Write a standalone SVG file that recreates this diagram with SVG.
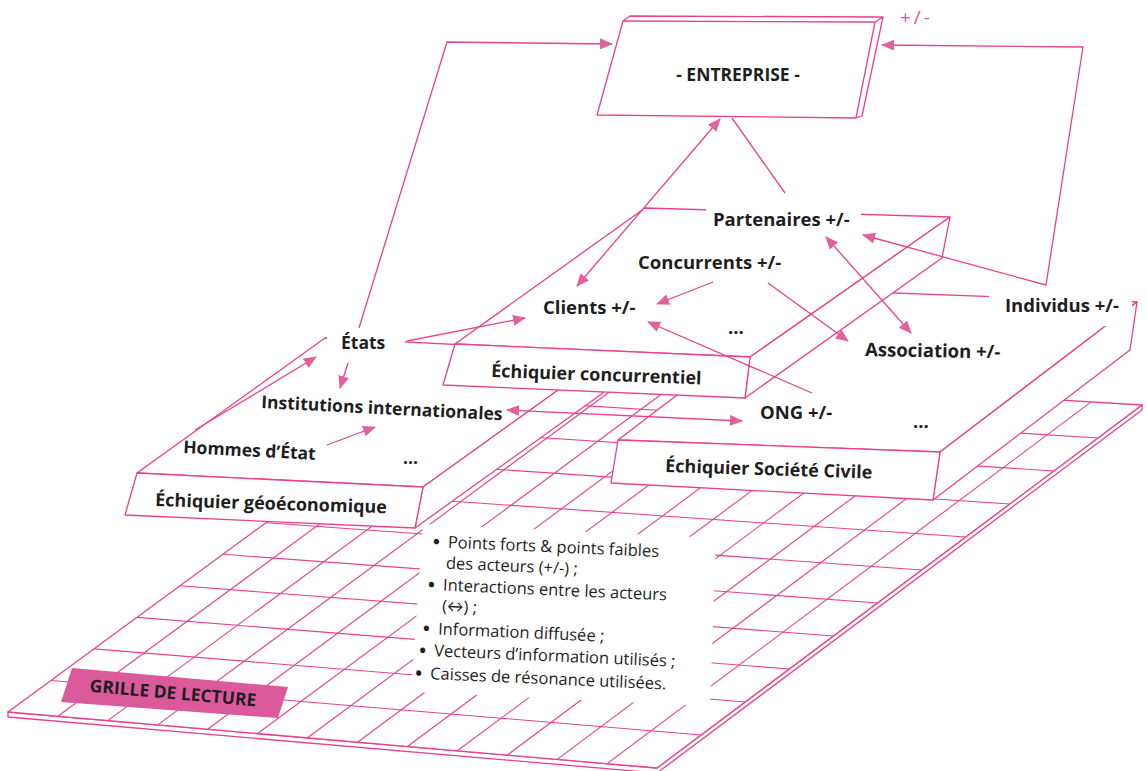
<svg xmlns="http://www.w3.org/2000/svg" width="1147" height="771" viewBox="0 0 1147 771">
<defs>
<style>
.ln{stroke:#E8418F;stroke-width:1.3;fill:none;stroke-linejoin:round}
.gl{stroke:#E8418F;stroke-width:1.1;fill:none}
.face{fill:#fff;stroke:#E8418F;stroke-width:1.3;stroke-linejoin:round}
.lbl{font-family:"Open Sans",Lato,"Liberation Sans",sans-serif;font-weight:bold;font-size:17.5px;fill:#1e1e1e}
.lb2{font-family:"Open Sans",Lato,"Liberation Sans",sans-serif;font-weight:bold;font-size:18.5px;fill:#1e1e1e}
.brd{font-family:"Open Sans",Lato,"Liberation Sans",sans-serif;font-weight:bold;font-size:18px;fill:#1e1e1e}
.bul{font-family:"Open Sans",Lato,"Liberation Sans",sans-serif;font-size:16.5px;fill:#1e1e1e}
.dot{font-family:"Open Sans",Lato,"Liberation Sans",sans-serif;font-weight:bold;font-size:18px;fill:#1e1e1e}
.bg{fill:#fff}
</style>
<marker id="ah" viewBox="0 0 13 11" refX="12" refY="5.5" markerWidth="13" markerHeight="11" markerUnits="userSpaceOnUse" orient="auto-start-reverse"><path d="M0,0 L13,5.5 L0,11 z" fill="#E2609C"/></marker>
</defs>
<rect width="1147" height="771" fill="#fff"/>

<g id="grille">
<polygon class="face" points="8,712 657,768 1142,405 1142,410 657,773 8,717"/>
<polygon class="face" points="8,712 657,768 1142,405 481,365"/>
<g class="gl">
<line x1="57.9" y1="716.3" x2="531.8" y2="368.1"/>
<line x1="107.8" y1="720.6" x2="582.7" y2="371.2"/>
<line x1="157.8" y1="724.9" x2="633.5" y2="374.2"/>
<line x1="207.7" y1="729.2" x2="684.4" y2="377.3"/>
<line x1="257.6" y1="733.5" x2="735.2" y2="380.4"/>
<line x1="307.5" y1="737.8" x2="786.1" y2="383.5"/>
<line x1="357.5" y1="742.2" x2="836.9" y2="386.5"/>
<line x1="407.4" y1="746.5" x2="887.8" y2="389.6"/>
<line x1="457.3" y1="750.8" x2="938.6" y2="392.7"/>
<line x1="507.2" y1="755.1" x2="989.5" y2="395.8"/>
<line x1="557.2" y1="759.4" x2="1040.3" y2="398.8"/>
<line x1="607.1" y1="763.7" x2="1091.2" y2="401.9"/>
<line x1="51" y1="680.5" x2="701.1" y2="735"/>
<line x1="94" y1="648.9" x2="745.2" y2="702"/>
<line x1="137" y1="617.4" x2="789.3" y2="669"/>
<line x1="180" y1="585.8" x2="833.4" y2="636"/>
<line x1="223" y1="554.3" x2="877.5" y2="603"/>
<line x1="266" y1="522.7" x2="921.5" y2="570"/>
<line x1="309" y1="491.2" x2="965.6" y2="537"/>
<line x1="352" y1="459.6" x2="1009.7" y2="504"/>
<line x1="395" y1="428.1" x2="1053.8" y2="471"/>
<line x1="438" y1="396.5" x2="1097.9" y2="438"/>
</g>
<polygon class="bg" points="423,524 716,538 710,706 411,692"/>
<g transform="rotate(2.5 430 540)">
<text class="dot" x="433" y="548">•</text><text class="bul" x="448" y="547">Points forts &amp; points faibles</text>
<text class="bul" x="447" y="568">des acteurs (+/-) ;</text>
<text class="dot" x="430" y="591">•</text><text class="bul" x="445" y="590">Interactions entre les acteurs</text>
<text class="bul" x="445" y="611">(↔) ;</text>
<text class="dot" x="427" y="635">•</text><text class="bul" x="442" y="634">Information diffusée ;</text>
<text class="dot" x="424" y="657">•</text><text class="bul" x="439" y="656">Vecteurs d’information utilisés ;</text>
<text class="dot" x="421" y="680">•</text><text class="bul" x="436" y="679">Caisses de résonance utilisées.</text>
</g>
<polygon points="72,668 288,687 278,718 61,702" fill="#DA5A9C"/>
<text class="lbl" x="173" y="699" text-anchor="middle" transform="rotate(5 173 693)" font-size="16.5">GRILLE DE LECTURE</text>
</g>

<g id="echiquier-geoeconomique">
<polygon class="face" points="137,473 325,338 611,352 423,487"/>
<polygon class="face" points="423,487 611,352 603,393 415,528"/>
<polygon class="face" points="137,473 423,487 415,528 125,515"/>
<text class="brd" x="155" y="506" transform="rotate(1.8 155 506)">Échiquier géoéconomique</text>
<rect class="bg" x="327" y="331" width="78" height="22"/>
<text class="lbl" x="341" y="349">États</text>
<text class="lbl" x="261" y="408" transform="rotate(2.9 261 408)">Institutions internationales</text>
<text class="lbl" x="183" y="453" transform="rotate(3 183 453)">Hommes d’État</text>
<text class="lbl" x="403" y="464">...</text>
</g>

<g id="echiquier-societe-civile">
<polygon class="face" points="618,440 815,290 1137,302 940,452"/>
<polygon class="face" points="940,452 1137,302 1130,350 933,500"/>
<polygon class="face" points="618,440 940,452 933,500 611,483"/>
<text class="brd" x="665" y="472" transform="rotate(1.8 665 472)">Échiquier Société Civile</text>
<text class="lb2" x="760" y="419">ONG +/-</text>
<text class="lb2" x="913" y="428">...</text>
<text class="lb2" x="865" y="356" transform="rotate(1 865 356)">Association +/-</text>
<rect class="bg" x="989" y="289" width="143" height="37"/>
<text class="lb2" x="1005" y="312">Individus +/-</text>
</g>

<g id="echiquier-concurrentiel">
<polygon class="face" points="455,344 645,208 950,217 750,357"/>
<polygon class="face" points="750,357 950,217 942,258 745,398"/>
<polygon class="face" points="455,344 750,357 745,398 443,385"/>
<text class="brd" x="491" y="377" transform="rotate(2 491 377)">Échiquier concurrentiel</text>
<rect class="bg" x="706" y="206" width="155" height="24"/>
<text class="lb2" x="713" y="226">Partenaires +/-</text>
<text class="lb2" x="638" y="269">Concurrents +/-</text>
<text class="lb2" x="543" y="314">Clients +/-</text>
<text class="lb2" x="728" y="334">...</text>
</g>

<g id="entreprise">
<polygon class="face" points="623,21 630,16 883,17 862,116 856,118 597,115"/>
<polyline class="ln" points="623,21 875,22 883,17"/>
<line class="ln" x1="875" y1="22" x2="856" y2="118"/>
<text class="lbl" x="738" y="81" text-anchor="middle" font-size="16.5">- ENTREPRISE -</text>
<text x="900" y="24" font-family="'Open Sans',Lato,'Liberation Sans',sans-serif" font-size="19" fill="#E0559A" letter-spacing="3">+/-</text>
</g>

<g id="connecteurs" class="ln">
<polyline points="359,328 447,42 612,44" marker-end="url(#ah)"/>
<polyline points="863,235 1046,285 1083,47 882,45" marker-start="url(#ah)" marker-end="url(#ah)"/>
<line x1="577" y1="286" x2="720" y2="119" marker-start="url(#ah)" marker-end="url(#ah)"/>
<line x1="732" y1="118" x2="785" y2="193"/>
<line x1="407" y1="341" x2="525" y2="318" marker-end="url(#ah)"/>
<line x1="348" y1="363" x2="340" y2="388" marker-end="url(#ah)"/>
<line x1="195" y1="430" x2="316" y2="357" marker-end="url(#ah)"/>
<line x1="327" y1="445" x2="375" y2="427" marker-end="url(#ah)"/>
<line x1="507" y1="410" x2="742" y2="421" marker-start="url(#ah)" marker-end="url(#ah)"/>
<line x1="713" y1="282" x2="657" y2="304" marker-end="url(#ah)"/>
<line x1="768" y1="283" x2="848" y2="341" marker-end="url(#ah)"/>
<line x1="826" y1="237" x2="911" y2="333" marker-start="url(#ah)" marker-end="url(#ah)"/>
<line x1="812" y1="393" x2="648" y2="322" marker-end="url(#ah)"/>
</g>
</svg>
